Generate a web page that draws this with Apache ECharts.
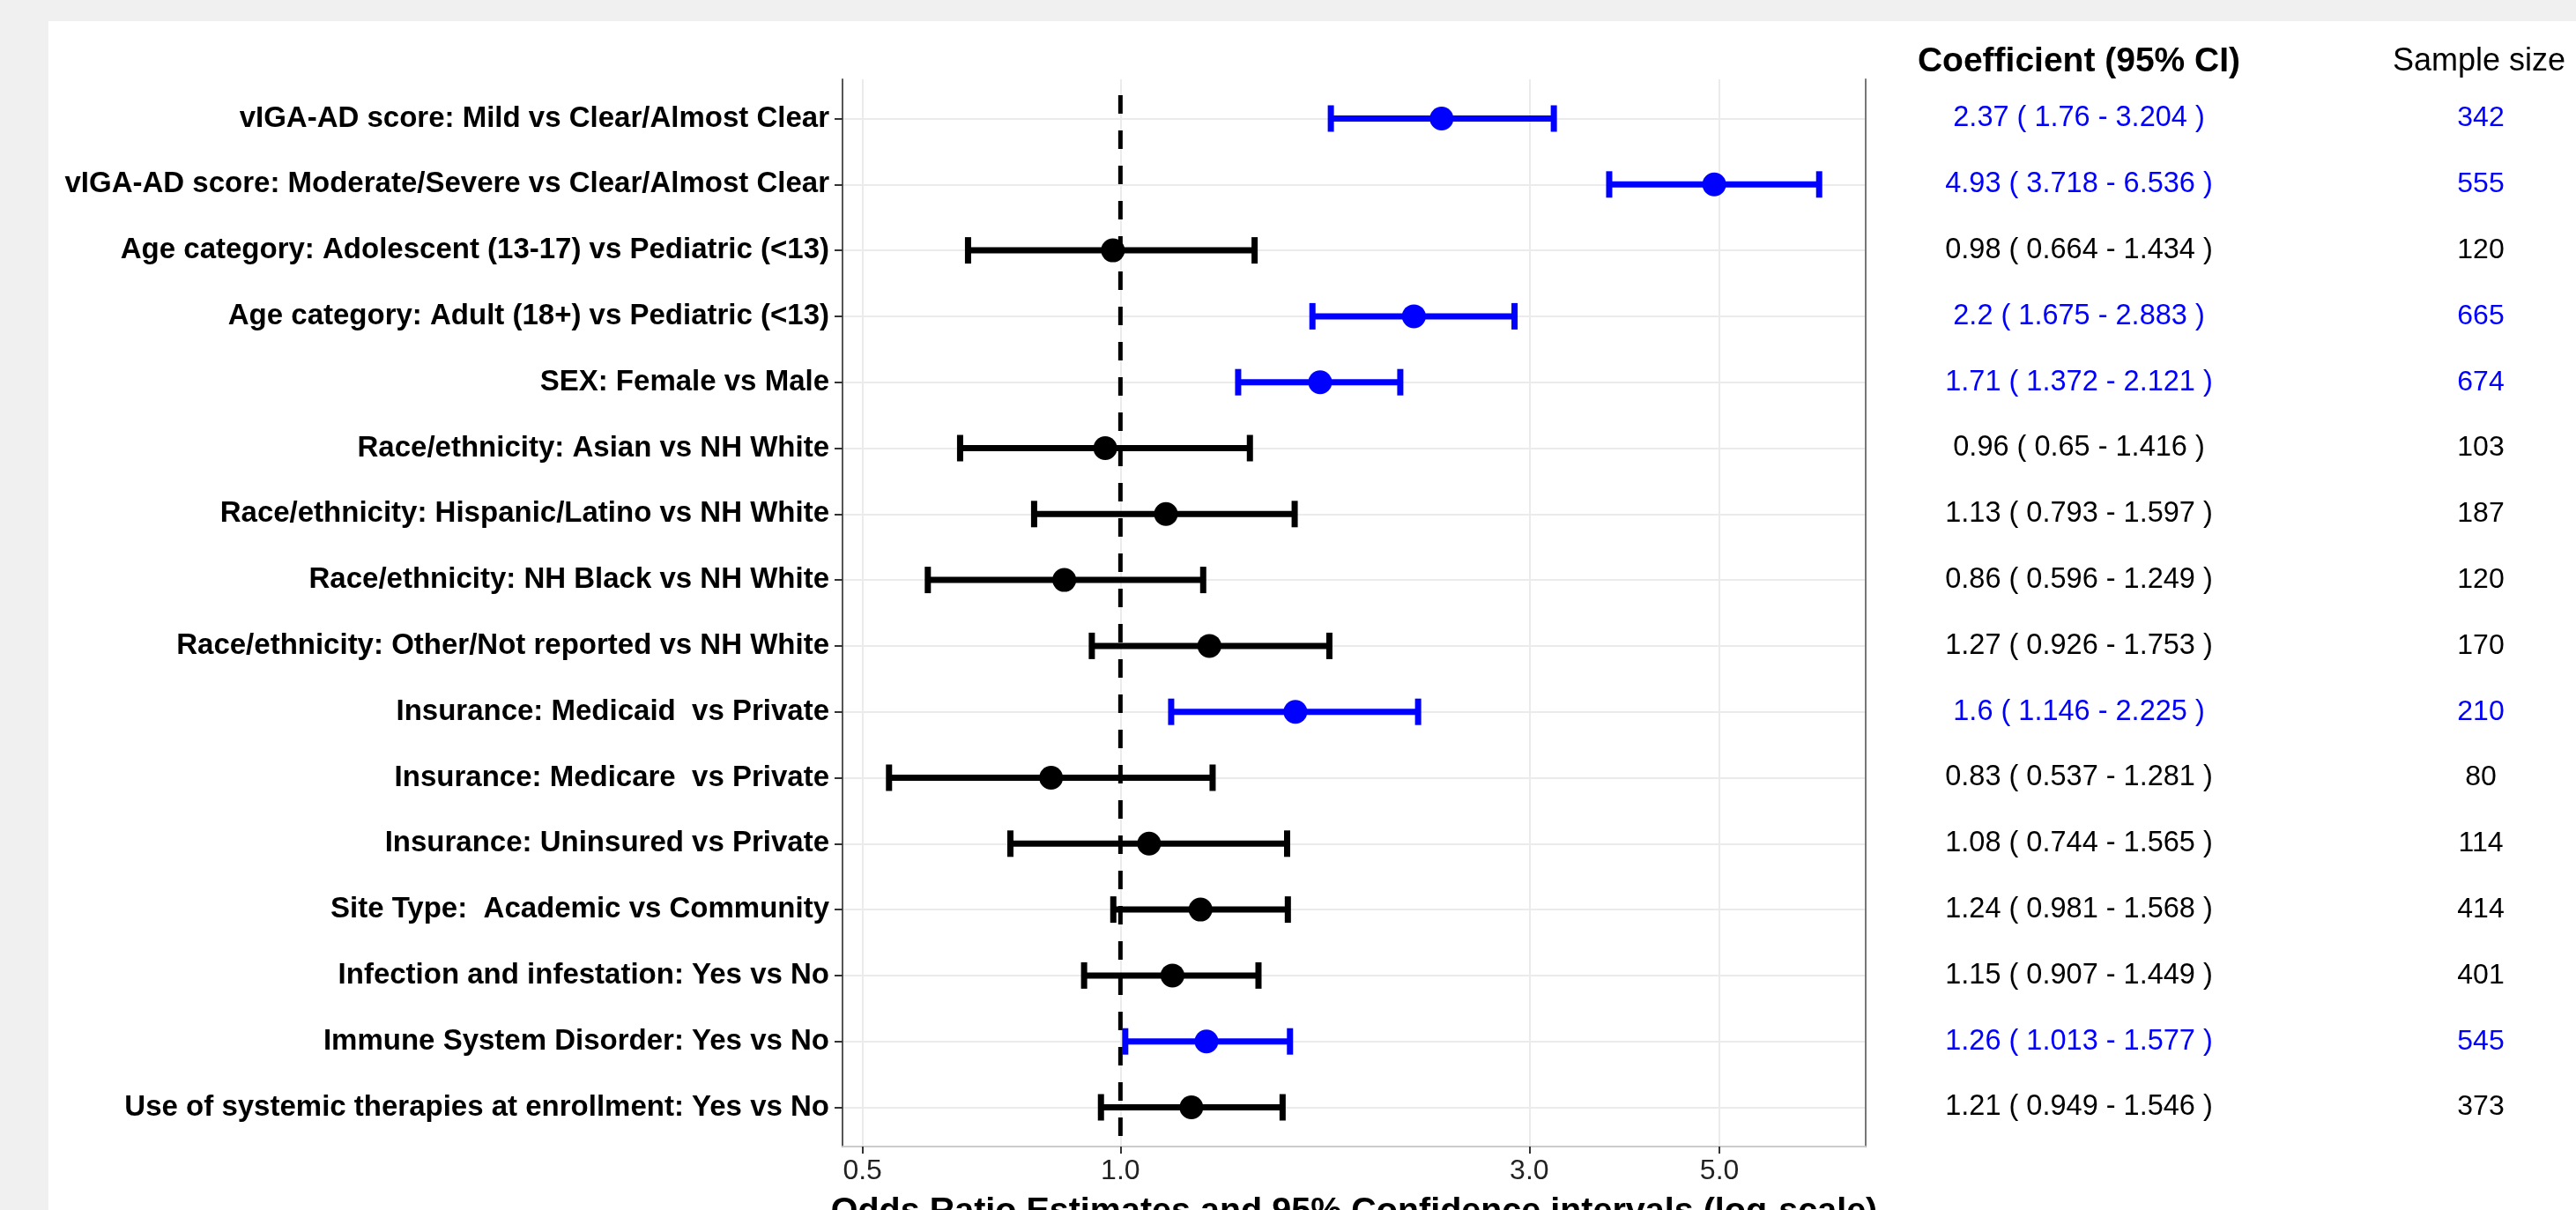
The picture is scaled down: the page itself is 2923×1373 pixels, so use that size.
<!DOCTYPE html>
<html>
<head>
<meta charset="utf-8">
<script src="https://cdn.jsdelivr.net/npm/echarts@6/dist/echarts.min.js"></script>
<style>html,body{margin:0;padding:0;background:#fff}#c{width:2923px;height:1373px}</style>
</head>
<body>
<div id="c"></div>
<script>
// ---------- data ----------
const labels = [
  'vIGA-AD score: Mild vs Clear/Almost Clear',
  'vIGA-AD score: Moderate/Severe vs Clear/Almost Clear',
  'Age category: Adolescent (13-17) vs Pediatric (<13)',
  'Age category: Adult (18+) vs Pediatric (<13)',
  'SEX: Female vs Male',
  'Race/ethnicity: Asian vs NH White',
  'Race/ethnicity: Hispanic/Latino vs NH White',
  'Race/ethnicity: NH Black vs NH White',
  'Race/ethnicity: Other/Not reported vs NH White',
  'Insurance: Medicaid  vs Private',
  'Insurance: Medicare  vs Private',
  'Insurance: Uninsured vs Private',
  'Site Type:  Academic vs Community',
  'Infection and infestation: Yes vs No',
  'Immune System Disorder: Yes vs No',
  'Use of systemic therapies at enrollment: Yes vs No'
];
const oddsRatio = [2.37, 4.93, 0.98, 2.2, 1.71, 0.96, 1.13, 0.86, 1.27, 1.6, 0.83, 1.08, 1.24, 1.15, 1.26, 1.21];
const ciLow     = [1.76, 3.718, 0.664, 1.675, 1.372, 0.65, 0.793, 0.596, 0.926, 1.146, 0.537, 0.744, 0.981, 0.907, 1.013, 0.949];
const ciHigh    = [3.204, 6.536, 1.434, 2.883, 2.121, 1.416, 1.597, 1.249, 1.753, 2.225, 1.281, 1.565, 1.568, 1.449, 1.577, 1.546];
const sampleSize = [342, 555, 120, 665, 674, 103, 187, 120, 170, 210, 80, 114, 414, 401, 545, 373];
const xTicks = [0.5, 1, 3, 5];
const refValue = 1;
const xTitle = 'Odds Ratio Estimates and 95% Confidence intervals (log-scale)';
const coefHeader = 'Coefficient (95% CI)';
const sizeHeader = 'Sample size';

// ---------- derived ----------
const BLUE = '#0000FF', BLACK = '#000000';
const sig = labels.map((_, i) => ciLow[i] > refValue || ciHigh[i] < refValue);
const rowColor = i => sig[i] ? BLUE : BLACK;
const coefText = labels.map((_, i) => `${oddsRatio[i]} ( ${ciLow[i]} - ${ciHigh[i]} )`);
const lnMin = Math.log(Math.min(...ciLow)), lnMax = Math.log(Math.max(...ciHigh));
const pad = (lnMax - lnMin) * 0.05;
const xMin = Math.exp(lnMin - pad), xMax = Math.exp(lnMax + pad);

const FONT = '"Liberation Sans", Arial, sans-serif';
const PL = 956, PR = 2923 - 2117, PT = 90, PH = 1211;
const RT = 134.5, RH = 1122;

const chart = echarts.init(document.getElementById('c'), null, {renderer: 'canvas'});
const logAxisBase = {type: 'log', logBase: Math.E, min: xMin, max: xMax};

chart.setOption({
  backgroundColor: '#ffffff',
  animation: false,
  graphic: [
    {type: 'rect', shape: {x: 0, y: 0, width: 2923, height: 24}, style: {fill: '#f0f0f0'}, silent: true},
    {type: 'rect', shape: {x: 0, y: 0, width: 55, height: 1373}, style: {fill: '#f0f0f0'}, silent: true},
    {type: 'text', x: 2359, y: 70, style: {text: coefHeader, font: `bold 39px ${FONT}`, fill: '#000', align: 'center', verticalAlign: 'middle'}},
    {type: 'text', x: 2813, y: 70, style: {text: sizeHeader, font: `36px ${FONT}`, fill: '#000', align: 'center', verticalAlign: 'middle'}}
  ],
  grid: [
    {left: PL, right: PR, top: PT, height: PH, containLabel: false, outerBoundsMode: 'none'},
    {left: PL, right: PR, top: RT, height: RH, containLabel: false, outerBoundsMode: 'none'}
  ],
  xAxis: [
    Object.assign({}, logAxisBase, {
      gridIndex: 0, position: 'bottom',
      axisLine: {show: true, lineStyle: {color: '#333', width: 2}},
      axisTick: {show: true, length: 8, lineStyle: {color: '#333', width: 2}, customValues: xTicks},
      axisLabel: {show: true, margin: 12, customValues: xTicks, fontSize: 32, fontFamily: FONT, color: '#222',
                  formatter: v => Number(v).toFixed(1)},
      splitLine: {show: true, lineStyle: {color: '#ebebeb', width: 2}},
      minorSplitLine: {show: false},
      name: xTitle, nameLocation: 'middle', nameGap: 54,
      nameTextStyle: {fontSize: 39.5, fontWeight: 'bold', fontFamily: FONT, color: '#000', verticalAlign: 'top'}
    }),
    Object.assign({}, logAxisBase, {
      gridIndex: 0, position: 'top',
      axisLine: {show: true, lineStyle: {color: '#cccccc', width: 2}},
      axisTick: {show: false}, axisLabel: {show: false}, splitLine: {show: false}
    }),
    Object.assign({}, logAxisBase, {
      gridIndex: 1, show: false, splitLine: {show: false}
    })
  ],
  yAxis: [
    {type: 'value', gridIndex: 0, min: 0, max: 1, position: 'left',
     axisLine: {show: true, lineStyle: {color: '#555', width: 2}},
     axisTick: {show: false}, axisLabel: {show: false}, splitLine: {show: false}},
    {type: 'value', gridIndex: 0, min: 0, max: 1, position: 'right',
     axisLine: {show: true, lineStyle: {color: '#777', width: 2}},
     axisTick: {show: false}, axisLabel: {show: false}, splitLine: {show: false}},
    {type: 'category', gridIndex: 1, data: labels, inverse: true, boundaryGap: false, position: 'left',
     axisLine: {show: false},
     axisTick: {show: true, length: 9, interval: 0, lineStyle: {color: '#333', width: 2}},
     axisLabel: {show: true, interval: 0, margin: 15, fontSize: 33, fontWeight: 'bold', fontFamily: FONT, color: '#000'},
     splitLine: {show: true, interval: 0, lineStyle: {color: '#ebebeb', width: 2}}},
    {type: 'category', gridIndex: 1, data: labels, inverse: true, boundaryGap: false, position: 'right', offset: 242,
     axisLine: {show: false}, axisTick: {show: false}, splitLine: {show: false},
     axisLabel: {show: true, interval: 0, margin: 0, align: 'center', fontSize: 32.5, fontFamily: FONT,
                 formatter: (v, i) => coefText[i], color: (v, i) => rowColor(i)}},
    {type: 'category', gridIndex: 1, data: labels, inverse: true, boundaryGap: false, position: 'right', offset: 698,
     axisLine: {show: false}, axisTick: {show: false}, splitLine: {show: false},
     axisLabel: {show: true, interval: 0, margin: 0, align: 'center', fontSize: 32, fontFamily: FONT,
                 formatter: (v, i) => String(sampleSize[i]), color: (v, i) => rowColor(i)}}
  ],
  series: [
    {
      type: 'line', xAxisIndex: 0, yAxisIndex: 0, z: 3,
      data: [[refValue, 1], [refValue, 0]],
      symbol: 'none', silent: true,
      lineStyle: {color: '#000', width: 5, type: [21, 19], dashOffset: 22}
    },
    {
      type: 'custom', xAxisIndex: 2, yAxisIndex: 2, z: 4,
      encode: {x: [0, 1], y: 2},
      data: labels.map((_, i) => ({value: [ciLow[i], ciHigh[i], i], itemStyle: {color: rowColor(i)}})),
      renderItem: (params, api) => {
        const row = api.value(2);
        const a = api.coord([api.value(0), row]);
        const b = api.coord([api.value(1), row]);
        const c = api.visual('color');
        const st = {stroke: c, lineWidth: 7};
        return {type: 'group', children: [
          {type: 'line', shape: {x1: a[0], y1: a[1], x2: b[0], y2: b[1]}, style: st},
          {type: 'line', shape: {x1: a[0], y1: a[1] - 15, x2: a[0], y2: a[1] + 15}, style: st},
          {type: 'line', shape: {x1: b[0], y1: b[1] - 15, x2: b[0], y2: b[1] + 15}, style: st}
        ]};
      }
    },
    {
      type: 'scatter', xAxisIndex: 2, yAxisIndex: 2, z: 5,
      symbol: 'circle', symbolSize: 27,
      data: labels.map((_, i) => ({value: [oddsRatio[i], i], itemStyle: {color: rowColor(i), opacity: 1}}))
    }
  ]
});
</script>
</body>
</html>
